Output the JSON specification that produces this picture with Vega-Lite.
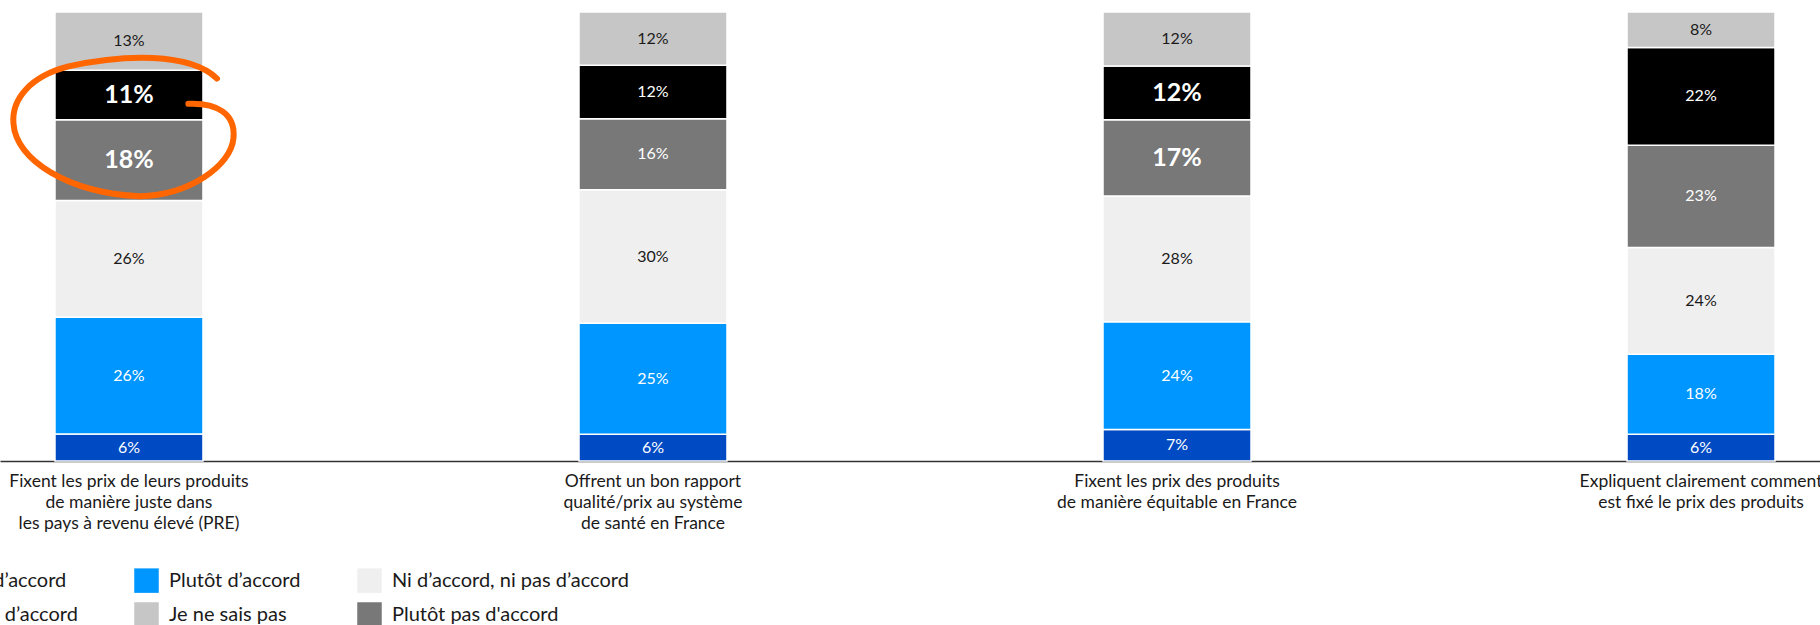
{
  "$schema": "https://vega.github.io/schema/vega-lite/v6.json",
  "width": 1820,
  "height": 449,
  "autosize": {"type": "none"},
  "padding": {"left": 0, "top": 12, "right": 0, "bottom": 164},
  "background": "white",
  "config": {
    "view": {"stroke": null},
    "font": "Lato"
  },
  "data": {
    "values": [
      {"question": "Fixent les prix de leurs produits\nde manière juste dans\nles pays à revenu élevé (PRE)", "cat": "Tout à fait d’accord", "k": 1, "v": 0.06},
      {"question": "Fixent les prix de leurs produits\nde manière juste dans\nles pays à revenu élevé (PRE)", "cat": "Plutôt d’accord", "k": 2, "v": 0.26},
      {"question": "Fixent les prix de leurs produits\nde manière juste dans\nles pays à revenu élevé (PRE)", "cat": "Ni d’accord, ni pas d’accord", "k": 3, "v": 0.26},
      {"question": "Fixent les prix de leurs produits\nde manière juste dans\nles pays à revenu élevé (PRE)", "cat": "Plutôt pas d'accord", "k": 4, "v": 0.18},
      {"question": "Fixent les prix de leurs produits\nde manière juste dans\nles pays à revenu élevé (PRE)", "cat": "Pas du tout d’accord", "k": 5, "v": 0.11},
      {"question": "Fixent les prix de leurs produits\nde manière juste dans\nles pays à revenu élevé (PRE)", "cat": "Je ne sais pas", "k": 6, "v": 0.13},
      {"question": "Offrent un bon rapport\nqualité/prix au système\nde santé en France", "cat": "Tout à fait d’accord", "k": 1, "v": 0.06},
      {"question": "Offrent un bon rapport\nqualité/prix au système\nde santé en France", "cat": "Plutôt d’accord", "k": 2, "v": 0.25},
      {"question": "Offrent un bon rapport\nqualité/prix au système\nde santé en France", "cat": "Ni d’accord, ni pas d’accord", "k": 3, "v": 0.30},
      {"question": "Offrent un bon rapport\nqualité/prix au système\nde santé en France", "cat": "Plutôt pas d'accord", "k": 4, "v": 0.16},
      {"question": "Offrent un bon rapport\nqualité/prix au système\nde santé en France", "cat": "Pas du tout d’accord", "k": 5, "v": 0.12},
      {"question": "Offrent un bon rapport\nqualité/prix au système\nde santé en France", "cat": "Je ne sais pas", "k": 6, "v": 0.12},
      {"question": "Fixent les prix des produits\nde manière équitable en France", "cat": "Tout à fait d’accord", "k": 1, "v": 0.07},
      {"question": "Fixent les prix des produits\nde manière équitable en France", "cat": "Plutôt d’accord", "k": 2, "v": 0.24},
      {"question": "Fixent les prix des produits\nde manière équitable en France", "cat": "Ni d’accord, ni pas d’accord", "k": 3, "v": 0.28},
      {"question": "Fixent les prix des produits\nde manière équitable en France", "cat": "Plutôt pas d'accord", "k": 4, "v": 0.17},
      {"question": "Fixent les prix des produits\nde manière équitable en France", "cat": "Pas du tout d’accord", "k": 5, "v": 0.12},
      {"question": "Fixent les prix des produits\nde manière équitable en France", "cat": "Je ne sais pas", "k": 6, "v": 0.12},
      {"question": "Expliquent clairement comment\nest fixé le prix des produits", "cat": "Tout à fait d’accord", "k": 1, "v": 0.06},
      {"question": "Expliquent clairement comment\nest fixé le prix des produits", "cat": "Plutôt d’accord", "k": 2, "v": 0.18},
      {"question": "Expliquent clairement comment\nest fixé le prix des produits", "cat": "Ni d’accord, ni pas d’accord", "k": 3, "v": 0.24},
      {"question": "Expliquent clairement comment\nest fixé le prix des produits", "cat": "Plutôt pas d'accord", "k": 4, "v": 0.23},
      {"question": "Expliquent clairement comment\nest fixé le prix des produits", "cat": "Pas du tout d’accord", "k": 5, "v": 0.22},
      {"question": "Expliquent clairement comment\nest fixé le prix des produits", "cat": "Je ne sais pas", "k": 6, "v": 0.08}
    ]
  },
  "encoding": {
    "x": {
      "field": "question",
      "type": "nominal",
      "sort": null,
      "scale": {"paddingInner": 0.7176, "paddingOuter": 0.0954, "align": 0.55},
      "axis": {
        "title": null,
        "labelAngle": 0,
        "labelExpr": "split(datum.label, '\\n')",
        "labelFont": "Lato",
        "labelFontSize": 17.5,
        "labelLineHeight": 21,
        "labelColor": "#1a1a1a",
        "labelPadding": 11,
        "labelLimit": 0,
        "labelOverlap": false,
        "ticks": false,
        "domainColor": "#333333",
        "domainWidth": 1.6,
        "grid": false
      }
    }
  },
  "layer": [
    {
      "mark": {"type": "bar", "stroke": "white", "strokeWidth": 1.5},
      "encoding": {
        "y": {"field": "v", "type": "quantitative", "stack": "normalize", "axis": null},
        "order": {"field": "k", "type": "quantitative"},
        "color": {
          "field": "cat",
          "type": "nominal",
          "scale": {
            "domain": ["Tout à fait d’accord", "Pas du tout d’accord", "Plutôt d’accord", "Je ne sais pas", "Ni d’accord, ni pas d’accord", "Plutôt pas d'accord"],
            "range": ["#004BC4", "#000000", "#0096FF", "#C6C6C6", "#EFEFEF", "#787878"]
          },
          "legend": {
            "title": null,
            "orient": "none",
            "legendX": -135,
            "legendY": 556,
            "columns": 3,
            "padding": 0,
            "symbolType": "square",
            "symbolSize": 600,
            "symbolStrokeWidth": 0,
            "symbolOpacity": 1,
            "labelFont": "Lato",
            "labelFontSize": 20,
            "labelColor": "#1a1a1a",
            "labelOffset": 10,
            "labelLimit": 0,
            "columnPadding": 56,
            "rowPadding": 9
          }
        }
      }
    },
    {
      "mark": {"type": "text", "font": "Lato", "fontSize": 16, "baseline": "middle", "align": "center"},
      "encoding": {
        "y": {"field": "v", "type": "quantitative", "stack": "normalize", "bandPosition": 0.5},
        "order": {"field": "k", "type": "quantitative"},
        "text": {"field": "v", "type": "quantitative", "format": ".0%"},
        "color": {"condition": {"test": "datum.k == 3 || datum.k == 6", "value": "#1a1a1a"}, "value": "white"},
        "opacity": {"condition": {"test": "(indexof(datum.question, 'juste') >= 0 || indexof(datum.question, 'équitable') >= 0) && (datum.k == 4 || datum.k == 5)", "value": 0}, "value": 1}
      }
    },
    {
      "mark": {"type": "text", "font": "Lato", "fontSize": 25, "fontWeight": "bold", "baseline": "middle", "align": "center"},
      "encoding": {
        "y": {"field": "v", "type": "quantitative", "stack": "normalize", "bandPosition": 0.5},
        "order": {"field": "k", "type": "quantitative"},
        "text": {"field": "v", "type": "quantitative", "format": ".0%"},
        "color": {"value": "white"},
        "opacity": {"condition": {"test": "(indexof(datum.question, 'juste') >= 0 || indexof(datum.question, 'équitable') >= 0) && (datum.k == 4 || datum.k == 5)", "value": 1}, "value": 0}
      }
    },
    {
      "transform": [{"filter": "datum.k == 4 && indexof(datum.question, 'juste') >= 0"}],
      "mark": {
        "type": "point",
        "shape": "M0.80,-0.44 C0.55,-0.68 -0.05,-0.66 -0.55,-0.55 C-0.90,-0.46 -1.07,-0.25 -1.05,-0.03 C-1.03,0.30 -0.55,0.60 0.10,0.63 C0.55,0.62 0.93,0.35 0.95,0.10 C0.97,-0.12 0.80,-0.22 0.54,-0.21",
        "size": 48400,
        "filled": false,
        "stroke": "#FF6600",
        "strokeWidth": 6,
        "strokeCap": "round",
        "strokeJoin": "round",
        "opacity": 1
      },
      "encoding": {
        "y": {"datum": 0.744, "type": "quantitative"}
      }
    }
  ]
}
